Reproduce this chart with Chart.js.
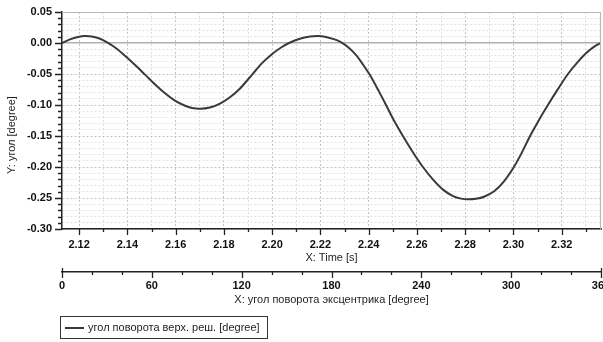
<!DOCTYPE html>
<html>
<head>
<meta charset="utf-8">
<script src="https://cdn.jsdelivr.net/npm/chart.js@4.4.1/dist/chart.umd.min.js"></script>
<style>
  html, body { margin: 0; padding: 0; background: #fff; }
  canvas { display: block; }
</style>
</head>
<body>
<canvas id="myChart" width="603" height="342"></canvas>
<script>
// time [s] and angle [degree]
const timeS = [2.1129, 2.1162, 2.1195, 2.1224, 2.1253, 2.1287, 2.1316, 2.1349, 2.1390, 2.1432,
               2.1473, 2.1515, 2.1556, 2.1597, 2.1639, 2.1668, 2.1701, 2.1742, 2.1784, 2.1825,
               2.1867, 2.1917, 2.1958, 2.1999, 2.2037, 2.2070, 2.2115, 2.2157, 2.2190, 2.2223,
               2.2256, 2.2285, 2.2314, 2.2348, 2.2377, 2.2406, 2.2439, 2.2472, 2.2505, 2.2542,
               2.2584, 2.2625, 2.2667, 2.2708, 2.2750, 2.2783, 2.2812, 2.2845, 2.2878, 2.2920,
               2.2961, 2.3002, 2.3036, 2.3069, 2.3106, 2.3143, 2.3185, 2.3226, 2.3268, 2.3305,
               2.3338, 2.3363];
const angle = [0.0000, 0.0058, 0.0098, 0.0113, 0.0104, 0.0068, 0.0010, -0.0073, -0.0205, -0.0355,
               -0.0510, -0.0670, -0.0812, -0.0930, -0.1012, -0.1047, -0.1060, -0.1040, -0.0977, -0.0875,
               -0.0733, -0.0510, -0.0325, -0.0180, -0.0072, 0.0000, 0.0069, 0.0104, 0.0113, 0.0098,
               0.0062, 0.0015, -0.0065, -0.0195, -0.0350, -0.0520, -0.0755, -0.1000, -0.1250, -0.1500,
               -0.1765, -0.2000, -0.2205, -0.2365, -0.2470, -0.2510, -0.2520, -0.2512, -0.2480, -0.2390,
               -0.2230, -0.2000, -0.1760, -0.1500, -0.1240, -0.1000, -0.0740, -0.0500, -0.0300, -0.0150,
               -0.0050, 0.0000];

const timeRange = [2.1129, 2.3363];
const yRange = [-0.30, 0.05];
const degRange = [0, 360];

const seriesLabel = 'угол поворота верх. реш. [degree]';
const xTitle = 'X: Time [s]';
const x2Title = 'X: угол поворота эксцентрика [degree]';
const yTitle = 'Y: угол [degree]';

const FONT = "'Liberation Sans', Arial, sans-serif";

const isMajorY = v => Math.round(v * 100) % 5 === 0;
const isMajorX = v => Math.round(v * 100) % 2 === 0;
const isMajorDeg = v => Math.round(v) % 60 === 0;

function fixSize(w, h) {
  return function (scale) {
    if (w) scale.width = w;
    if (h) scale.height = h;
    scale.paddingLeft = 0; scale.paddingRight = 0;
    scale.paddingTop = 0; scale.paddingBottom = 0;
  };
}

// tick marks, plot frame, y title and the boxed legend
const extras = {
  id: 'extras',
  afterDraw(chart) {
    const ctx = chart.ctx, a = chart.chartArea;
    ctx.save();
    ctx.strokeStyle = '#b9b9b9';
    ctx.lineWidth = 1.2;
    ctx.beginPath();
    ctx.moveTo(a.left, a.top + 0.5);
    ctx.lineTo(a.right - 0.5, a.top + 0.5);
    ctx.lineTo(a.right - 0.5, a.bottom);
    ctx.stroke();

    ctx.strokeStyle = '#222';
    ctx.lineWidth = 1.3;
    ctx.beginPath();
    const y = chart.scales.y;
    y.ticks.forEach(t => {
      const p = Math.round(y.getPixelForValue(t.value)) + 0.5;
      const len = isMajorY(t.value) ? 7 : 4;
      ctx.moveTo(a.left - len, p); ctx.lineTo(a.left, p);
    });
    const x = chart.scales.x;
    x.ticks.forEach(t => {
      const p = Math.round(x.getPixelForValue(t.value)) + 0.5;
      const len = isMajorX(t.value) ? 6 : 3;
      ctx.moveTo(p, a.bottom); ctx.lineTo(p, a.bottom + len);
    });
    const x2 = chart.scales.x2;
    x2.ticks.forEach(t => {
      const p = Math.round(x2.getPixelForValue(t.value)) + 0.5;
      const len = isMajorDeg(t.value) ? 6 : 3;
      const up = (t.value === degRange[0] || t.value === degRange[1]) ? 4 : 0;
      ctx.moveTo(p, x2.top - up); ctx.lineTo(p, x2.top + len);
    });
    ctx.stroke();

    // y axis title
    ctx.fillStyle = '#1e1e1e';
    ctx.font = '11px ' + FONT;
    ctx.textAlign = 'center';
    ctx.textBaseline = 'middle';
    ctx.translate(12, 135);
    ctx.rotate(-Math.PI / 2);
    ctx.fillText(yTitle, 0, 0);
    ctx.setTransform(1, 0, 0, 1, 0, 0);

    // legend
    const ds = chart.data.datasets[0];
    ctx.strokeStyle = '#333';
    ctx.lineWidth = 1;
    ctx.strokeRect(60.5, 316.5, 207, 22);
    ctx.strokeStyle = ds.borderColor;
    ctx.lineWidth = 2;
    ctx.beginPath();
    ctx.moveTo(65, 328); ctx.lineTo(84, 328);
    ctx.stroke();
    ctx.textAlign = 'left';
    ctx.fillText(ds.label, 88, 328);
    ctx.restore();
  }
};

const ctx = document.getElementById('myChart');

new Chart(ctx, {
  type: 'line',
  data: {
    datasets: [{
      label: seriesLabel,
      data: timeS.map((t, i) => ({ x: t, y: angle[i] })),
      borderColor: '#3a3a3a',
      borderWidth: 2,
      pointRadius: 0,
      fill: false,
      tension: 0.3,
      xAxisID: 'x',
      yAxisID: 'y'
    }]
  },
  options: {
    responsive: false,
    animation: false,
    devicePixelRatio: 1,
    layout: { padding: { top: 12, right: 2, bottom: 34, left: 0 } },
    plugins: { legend: { display: false }, tooltip: { enabled: false } },
    scales: {
      x: {
        type: 'linear',
        position: 'bottom',
        weight: 0,
        min: timeRange[0],
        max: timeRange[1],
        afterFit: fixSize(0, 43),
        ticks: {
          stepSize: 0.01,
          includeBounds: false,
          autoSkip: false,
          maxRotation: 0,
          padding: 9,
          color: '#111',
          font: { family: FONT, size: 11, weight: 'bold' },
          callback: v => isMajorX(v) ? v.toFixed(2) : ''
        },
        grid: {
          drawTicks: false,
          color: c => isMajorX(c.tick.value) ? '#c4c4c4' : '#dedede',
          lineWidth: 1
        },
        border: { display: true, color: '#222', width: 1.5, dash: [2, 2] },
        title: {
          display: true, text: xTitle, color: '#1e1e1e',
          font: { family: FONT, size: 11 }, padding: { top: 0, bottom: 7 }
        }
      },
      x2: {
        type: 'linear',
        position: 'bottom',
        weight: 1,
        min: degRange[0],
        max: degRange[1],
        afterFit: fixSize(0, 36),
        ticks: {
          stepSize: 20,
          autoSkip: false,
          maxRotation: 0,
          padding: 7,
          color: '#111',
          font: { family: FONT, size: 11, weight: 'bold' },
          callback: v => isMajorDeg(v) ? String(v) : ''
        },
        grid: { drawOnChartArea: false, drawTicks: false },
        border: { display: true, color: '#222', width: 1.5 },
        title: {
          display: true, text: x2Title, color: '#1e1e1e',
          font: { family: FONT, size: 11 }, padding: { top: 0, bottom: 1 }
        }
      },
      y: {
        type: 'linear',
        position: 'left',
        min: yRange[0],
        max: yRange[1],
        afterFit: fixSize(62, 0),
        ticks: {
          stepSize: 0.01,
          autoSkip: false,
          padding: 10,
          color: '#111',
          font: { family: FONT, size: 11, weight: 'bold' },
          callback: v => isMajorY(v) ? v.toFixed(2) : ''
        },
        grid: {
          drawTicks: false,
          color: c => Math.abs(c.tick.value) < 1e-9 ? '#b0b0b0' : (isMajorY(c.tick.value) ? '#c4c4c4' : '#e2e2e2'),
          lineWidth: c => Math.abs(c.tick.value) < 1e-9 ? 1.6 : 1
        },
        border: {
          display: true, color: '#222', width: 1.5,
          dash: c => (c.tick && Math.abs(c.tick.value) < 1e-9) ? [] : [2, 2]
        },
        title: { display: false }
      }
    }
  },
  plugins: [extras]
});
</script>
</body>
</html>
